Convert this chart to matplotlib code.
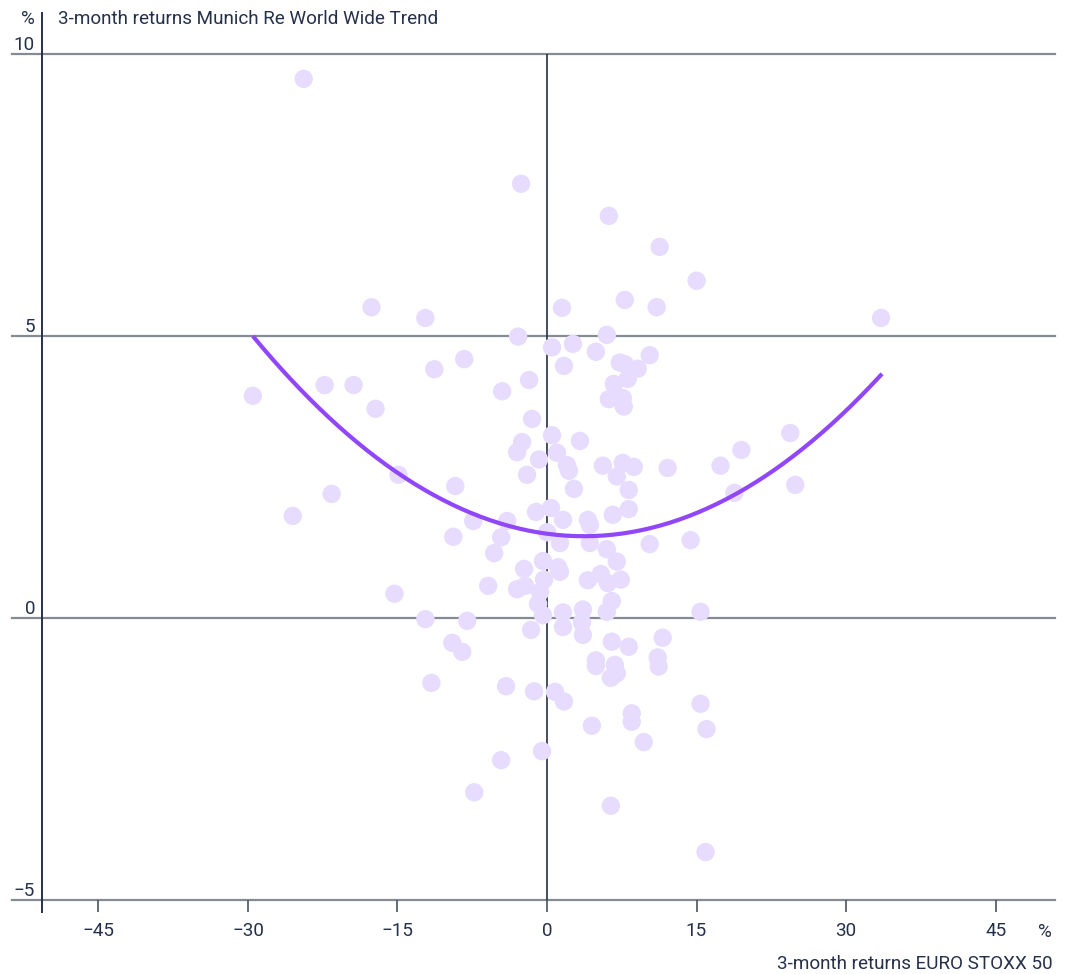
import matplotlib
matplotlib.use("Agg")
import matplotlib.pyplot as plt
import numpy as np

TEXT = "#25304a"
GRID = "#858b93"
DOT = "#e7dcfd"
CURVE = "#9146fa"

# 3-month returns, EURO STOXX 50 (%)
stoxx = [-24.4, -2.6, 6.2, 11.3, 15.0, -17.6, -12.2, 1.5, 7.8, 11.0,
         33.5, -2.9, 6.0, 0.5, 2.6, 4.9, 10.3, -8.3, -11.3, 1.7,
         7.3, 7.8, 9.1, -1.8, -22.3, -19.4, 6.7, 8.1, -4.5, -29.5,
         6.2, 7.6, 7.7, -17.2, -1.5, 0.5, 24.4, -2.5, 3.3, -3.0,
         1.0, 19.5, -0.8, 2.0, 5.6, 7.6, 8.7, 12.1, 17.4, 2.2,
         -14.9, -2.0, 7.0, -9.2, 2.7, 8.2, 24.9, -21.6, 18.8, -25.5,
         0.4, -1.1, 8.2, 6.6, -7.4, -4.0, 1.6, 4.1, 4.3, 0.0,
         -9.4, -4.6, 1.3, 4.3, 10.3, 14.4, 6.0, -5.3, -0.4, 7.0,
         -2.3, 1.1, 1.3, 5.4, 4.1, 7.4, 6.1, -5.9, -3.0, -2.2,
         -0.7, -0.9, 6.5, -15.3, 3.6, 1.6, -0.4, 6.0, 15.4, -12.2,
         -8.0, 3.5, 1.6, 3.6, -1.6, 11.6, 6.5, -9.5, -8.5, 8.2,
         11.1, 4.9, 4.9, 6.8, 11.2, 7.0, 6.4, -11.6, -4.1, -1.3,
         0.8, 1.7, 15.4, 8.5, 8.5, 4.5, 16.0, 9.7, -0.5, -4.6,
         -7.3, 6.4, 15.9, -0.3]

# 3-month returns, Munich Re World Wide Trend (%)
munich = [9.56, 7.70, 7.13, 6.58, 5.98, 5.51, 5.32, 5.50, 5.64, 5.51,
          5.32, 4.99, 5.02, 4.80, 4.86, 4.72, 4.66, 4.59, 4.41, 4.47,
          4.53, 4.50, 4.42, 4.22, 4.13, 4.13, 4.15, 4.24, 4.02, 3.94,
          3.88, 3.90, 3.75, 3.71, 3.53, 3.24, 3.28, 3.12, 3.14, 2.94,
          2.93, 2.98, 2.81, 2.71, 2.70, 2.75, 2.68, 2.66, 2.70, 2.61,
          2.54, 2.54, 2.51, 2.34, 2.29, 2.27, 2.36, 2.20, 2.22, 1.81,
          1.95, 1.88, 1.93, 1.83, 1.72, 1.72, 1.74, 1.74, 1.65, 1.52,
          1.44, 1.43, 1.33, 1.33, 1.31, 1.38, 1.22, 1.15, 1.01, 1.00,
          0.87, 0.90, 0.82, 0.78, 0.67, 0.68, 0.62, 0.57, 0.51, 0.57,
          0.46, 0.25, 0.30, 0.43, 0.15, 0.10, 0.05, 0.11, 0.11, -0.02,
          -0.05, -0.08, -0.16, -0.30, -0.21, -0.35, -0.42, -0.44, -0.60, -0.51,
          -0.70, -0.75, -0.85, -0.83, -0.86, -0.98, -1.06, -1.15, -1.21, -1.30,
          -1.31, -1.48, -1.52, -1.69, -1.84, -1.91, -1.97, -2.20, -2.36, -2.52,
          -3.09, -3.33, -4.15, 0.68]

# quadratic trend line as drawn in the chart
trend_coef = [0.00322, -0.0238, 1.494]
trend_range = [-29.5, 33.6]

x_ticks = [-45, -30, -15, 0, 15, 30, 45]
y_ticks = [-5, 0, 5, 10]

FS = 13.6
plt.rcParams["font.family"] = ["Roboto", "DejaVu Sans"]
W, H = 1071, 974
fig = plt.figure(figsize=(W / 100, H / 100), dpi=100)
ax = fig.add_axes([42 / W, 1 - 900 / H, (1055 - 42) / W, (900 - 54) / H])
ax.set_xlim(-50.65, 50.95)
ax.set_ylim(-5, 10)
for s in ax.spines.values():
    s.set_visible(False)

# horizontal grid lines reach out past the left axis
for v in y_ticks:
    ax.plot([-30 / 1013, 1], [(v + 5) / 15] * 2, transform=ax.transAxes,
            color=GRID, lw=1.6, clip_on=False, zorder=1)
    ax.annotate(f"{v}".replace("-", "\u2212"), xy=(0, v),
                xycoords=("axes fraction", "data"), xytext=(-5, 0),
                textcoords="offset points", ha="right", va="bottom",
                fontsize=FS, color=TEXT)

# left axis line and zero line
ax.plot([0, 0], [-12 / 846, 1 + 41 / 846], transform=ax.transAxes,
        color=TEXT, lw=1.4, clip_on=False, zorder=1)
ax.axvline(0, color=TEXT, lw=1.2, zorder=1)

ax.set_xticks(x_ticks)
ax.set_xticklabels([f"{v}".replace("-", "\u2212") for v in x_ticks])
ax.set_yticks([])
ax.tick_params(axis="x", length=8.5, width=1.2, color="#4a5364",
               labelsize=FS, labelcolor=TEXT, pad=7)

ax.scatter(stoxx, munich, s=175, color=DOT, edgecolors="none", zorder=2)

xs = np.linspace(trend_range[0], trend_range[1], 200)
ax.plot(xs, np.polyval(trend_coef, xs), color=CURVE, lw=3.0,
        solid_capstyle="butt", zorder=3)

fig.text(35 / W, 1 - 19 / H, "%", ha="right", va="center",
         fontsize=FS, color=TEXT)
fig.text(58 / W, 1 - 19 / H, "3-month returns Munich Re World Wide Trend",
         ha="left", va="center", fontsize=FS, color=TEXT)
fig.text(1045 / W, 1 - 932 / H, "%", ha="center", va="center",
         fontsize=FS, color=TEXT)
fig.text(1053 / W, 1 - 964 / H, "3-month returns EURO STOXX 50",
         ha="right", va="center", fontsize=FS, color=TEXT)

fig.savefig("out.png", dpi=100, facecolor="white")
